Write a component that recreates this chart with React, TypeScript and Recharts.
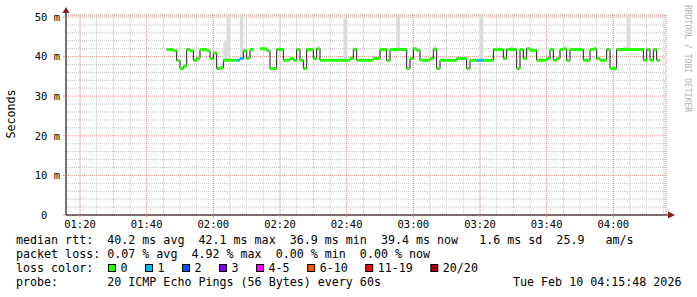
import React from 'react';
import { ComposedChart, Line, Area, XAxis, YAxis, CartesianGrid } from 'recharts';

// ---- data (minutes since 00:00, values in ms) ----
const stepStartMin = [
  106, 108, 109, 110, 111, 112, 113, 114, 115, 116, 118, 119, 120, 121, 122, 123, 127, 128, 129, 130,
  131, 132, 134, 136, 137, 139, 141, 143, 144, 145, 146, 147, 148, 150, 151, 152, 161, 162, 163, 168,
  170, 172, 173, 178, 179, 180, 181, 182, 185, 186, 187, 188, 192, 193, 196, 197, 199, 201, 202, 203,
  204, 207, 208, 211, 212, 213, 214, 215, 217, 220, 221, 222, 223, 224, 225, 226, 227, 231, 232, 233,
  234, 235, 236, 238, 239, 241, 249, 250, 251, 252, 253,
];
const medianMs: (number | null)[] = [
  41.8, 41.5, 39.0, 37.0, 37.6, 41.8, 41.5, 39.1, 39.6, 41.8, 41.5, 39.5, 40.9, 37.0, 37.2, 39.1, 39.1, 39.5, 41.5, 39.6,
  41.8, null, 42.0, 41.5, 37.0, 41.8, 39.1, 39.5, 39.1, 41.8, 39.1, 37.0, 41.8, 39.5, 42.0, 39.1, 39.5, 41.8, 39.1, 39.5,
  41.8, 39.0, 41.8, 37.0, 39.5, 42.0, 41.6, 39.1, 39.5, 41.8, 37.0, 39.1, 39.0, 39.5, 37.0, 39.1, 39.1, 39.1, 39.0, 39.1,
  41.8, 39.5, 41.8, 37.0, 41.8, 39.5, 42.0, 41.6, 39.1, 39.5, 41.8, 39.1, 39.5, 41.8, 42.0, 39.0, 41.8, 39.1, 39.0, 41.8,
  42.0, 39.5, 39.1, 41.8, 37.0, 41.8, 39.1, 41.8, 39.1, 41.8, 39.1,
];
const lossBucket: (number | null)[] = [
  0, 0, 0, 0, 0, 0, 0, 0, 0, 0, 0, 0, 0, 0, 0, 0, 1, 1, 0, 0,
  0, null, 0, 0, 0, 0, 0, 0, 0, 0, 0, 0, 0, 0, 0, 0, 0, 0, 0, 0,
  0, 0, 0, 0, 0, 0, 0, 0, 0, 0, 0, 0, 0, 0, 0, 0, 1, 0, 0, 0,
  0, 0, 0, 0, 0, 0, 0, 0, 0, 0, 0, 0, 0, 0, 0, 0, 0, 0, 0, 0,
  0, 0, 0, 0, 0, 0, 0, 0, 0, 0, 0,
];
const seriesEndMin = 254;

const smokeStartMin = [123, 124, 128, 159, 162, 175, 186, 200, 205, 209, 228, 243, 244];
const smokeLowMs = [39.1, 39.1, 39.5, 39.1, 41.8, 41.8, 41.8, 39.1, 41.8, 41.8, 41.8, 41.8, 41.8];
const smokeHighMs = [43.8, 50.5, 50.5, 49.6, 42.3, 50.5, 42.7, 50.5, 42.3, 42.6, 42.3, 42.6, 50.5];

const xMajorTicks = [80, 100, 120, 140, 160, 180, 200, 220, 240];
const xMinorTicks = [80, 85, 90, 95, 100, 105, 110, 115, 120, 125, 130, 135, 140, 145, 150, 155, 160, 165, 170, 175, 180, 185, 190, 195, 200, 205, 210, 215, 220, 225, 230, 235, 240, 245, 250, 255];
const yMajorTicks = [0, 10, 20, 30, 40, 50];
const yMinorTicks = [2, 4, 6, 8, 12, 14, 16, 18, 22, 24, 26, 28, 32, 34, 36, 38, 42, 44, 46, 48];
const timeDomain: [number, number] = [75.8, 255.8];
const valueDomain: [number, number] = [0, 50.5];

const lossLabels = ['0', '1', '2', '3', '4-5', '6-10', '11-19', '20/20'];
const lossColors = ['#26ff00', '#00b8ff', '#0059ff', '#7e00ff', '#ff00ff', '#ff5500', '#ff0000', '#a10000'];

const statsRtt = 'median rtt:  40.2 ms avg  42.1 ms max  36.9 ms min  39.4 ms now   1.6 ms sd  25.9   am/s';
const statsLoss = 'packet loss: 0.07 % avg  4.92 % max  0.00 % min  0.00 % now';
const lossTitle = 'loss color:';
const probeText = 'probe:       20 ICMP Echo Pings (56 Bytes) every 60s';
const stampText = 'Tue Feb 10 04:15:48 2026';
const sideText = 'RRDTOOL / TOBI OETIKER';
const yTitle = 'Seconds';

// ---- derived tables ----
const medianRows: { t: number; m: number | null }[] = stepStartMin.map((t, i) => ({ t, m: medianMs[i] }));
medianRows.push({ t: seriesEndMin, m: medianMs[medianMs.length - 1] });

function segmentRows(bucket: number) {
  const rows: { t: number; v: number | null }[] = [];
  stepStartMin.forEach((t, i) => {
    const end = i + 1 < stepStartMin.length ? stepStartMin[i + 1] : seriesEndMin;
    const v = medianMs[i];
    if (v == null || lossBucket[i] !== bucket) return;
    rows.push({ t, v }, { t: end, v }, { t: end, v: null });
  });
  return rows;
}
const usedBuckets = Array.from(new Set(lossBucket.filter((b) => b != null))) as number[];

const smokeRows = smokeStartMin.flatMap((t, i) => [
  { t, r: [smokeLowMs[i], smokeHighMs[i]] as [number, number] | null },
  { t: t + 1, r: [smokeLowMs[i], smokeHighMs[i]] as [number, number] | null },
  { t: t + 1, r: null },
]);

const MONO = '"DejaVu Sans Mono", monospace';
const fmtTime = (v: number) => {
  const h = Math.floor(v / 60);
  const m = Math.round(v % 60);
  return `${String(h).padStart(2, '0')}:${String(m).padStart(2, '0')}`;
};
const fmtVal = (v: number) => (v === 0 ? '0\u00a0\u00a0' : `${v} m`);

const XArrow = (props: any) => {
  const vb = props.viewBox || {};
  const x = vb.x + vb.width;
  const y = vb.y;
  return (
    <g>
      <line x1={x} y1={y} x2={x + 3} y2={y} stroke="#000" />
      <polygon points={`${x + 2},${y - 3.5} ${x + 9},${y} ${x + 2},${y + 3.5}`} fill="#8b1a1a" />
    </g>
  );
};
const YDecor = (props: any) => {
  const vb = props.viewBox || {};
  const x = vb.x + vb.width;
  const y = vb.y;
  const cy = vb.y + vb.height / 2 - 1;
  return (
    <g>
      <line x1={x} y1={y} x2={x} y2={y - 3} stroke="#000" />
      <polygon points={`${x - 3.5},${y - 2} ${x},${y - 8} ${x + 3.5},${y - 2}`} fill="#8b1a1a" />
      <text x={11} y={cy} transform={`rotate(-90 11 ${cy})`} textAnchor="middle" dominantBaseline="central"
        fontFamily={MONO} fontSize={11.66} fill="#000">{yTitle}</text>
    </g>
  );
};

const CH = 7.02;

export default function App() {
  let bx = 108;
  const legendItems = lossLabels.map((lab, i) => {
    const item = { x: bx, lab, color: lossColors[i] };
    bx += 30 + CH * lab.length;
    return item;
  });
  const textStyle: React.CSSProperties = { whiteSpace: 'pre' };
  return (
    <div style={{ position: 'absolute', left: 0, top: 0, width: 697, height: 297, background: '#fff' }}>
      <ComposedChart width={697} height={235} margin={{ top: 15, right: 31, bottom: 0, left: 0 }}>
        <XAxis xAxisId="minor" type="number" dataKey="t" domain={timeDomain} ticks={xMinorTicks} interval={0} hide allowDataOverflow />
        <YAxis yAxisId="minor" type="number" domain={valueDomain} ticks={yMinorTicks} interval={0} hide allowDataOverflow />
        <XAxis xAxisId="main" type="number" dataKey="t" domain={timeDomain} ticks={xMajorTicks} interval={0}
          allowDataOverflow height={20} tickFormatter={fmtTime}
          tick={{ fontFamily: MONO, fontSize: 10.5, fill: '#000' }}
          tickLine={{ stroke: '#d99a9a' }} tickSize={3} tickMargin={2.5}
          axisLine={{ stroke: '#000' }} label={XArrow} />
        <YAxis yAxisId="main" type="number" domain={valueDomain} ticks={yMajorTicks} interval={0}
          allowDataOverflow width={66} tickFormatter={fmtVal}
          tick={{ fontFamily: MONO, fontSize: 10.5, fill: '#000' }}
          tickLine={{ stroke: '#d99a9a' }} tickSize={3} tickMargin={3}
          axisLine={{ stroke: '#000' }} label={YDecor} />
        <CartesianGrid xAxisId="minor" yAxisId="minor" stroke="#c4c4c4" strokeDasharray="1 1" />
        <CartesianGrid xAxisId="main" yAxisId="main" stroke="#e09a9a" strokeDasharray="1 1" />
        <Area xAxisId="main" yAxisId="main" data={smokeRows} dataKey="r" type="linear" stroke="none"
          fill="#dcdcdc" fillOpacity={1} isAnimationActive={false} dot={false} activeDot={false} />
        <Line xAxisId="main" yAxisId="main" data={medianRows} dataKey="m" type="stepAfter" stroke="#1a1a1a"
          strokeWidth={1} dot={false} activeDot={false} isAnimationActive={false} />
        {usedBuckets.map((b) => (
          <Line key={b} xAxisId="main" yAxisId="main" data={segmentRows(b)} dataKey="v" type="linear"
            stroke={lossColors[b]} strokeWidth={3} strokeLinecap="butt" dot={false} activeDot={false}
            isAnimationActive={false} />
        ))}
      </ComposedChart>
      <svg width={697} height={297} style={{ position: 'absolute', left: 0, top: 0, pointerEvents: 'none' }}>
        <text x={685} y={5} transform="rotate(90 685 5)" fontFamily={MONO} fontSize={8.1} fill="#b4b4b4" style={textStyle}>{sideText}</text>
        <g fontFamily={MONO} fontSize={11.66} fill="#000">
          <text x={16} y={244.3} style={textStyle} xmlSpace="preserve">{statsRtt}</text>
          <text x={16} y={258.3} style={textStyle} xmlSpace="preserve">{statsLoss}</text>
          <text x={16} y={272.3} style={textStyle} xmlSpace="preserve">{lossTitle}</text>
          {legendItems.map((it) => (
            <g key={it.lab}>
              <rect x={it.x + 0.5} y={264.5} width={7} height={7} fill={it.color} stroke="#000" strokeWidth={1} />
              <text x={it.x + 12.5} y={272.3} style={textStyle}>{it.lab}</text>
            </g>
          ))}
          <text x={16} y={286.3} style={textStyle} xmlSpace="preserve">{probeText}</text>
          <text x={513} y={286.3} style={textStyle} xmlSpace="preserve">{stampText}</text>
        </g>
      </svg>
    </div>
  );
}
